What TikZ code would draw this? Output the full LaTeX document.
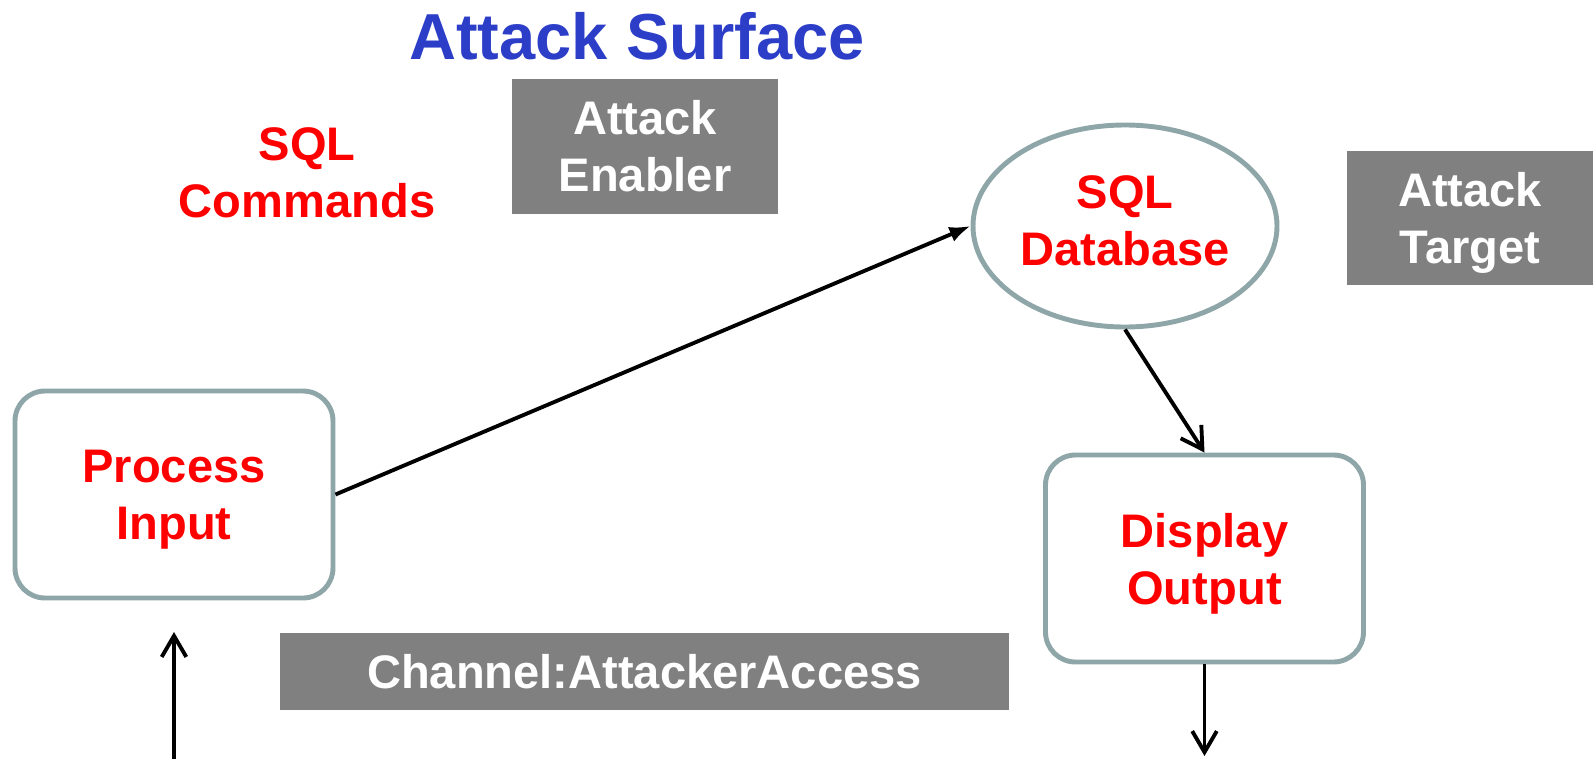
\documentclass[tikz,border=0pt]{standalone}
\usepackage{fontspec}
\setmainfont{Liberation Sans}
\usetikzlibrary{arrows.meta,shapes.geometric}

\definecolor{edgegray}{RGB}{143,166,169}
\definecolor{tagfill}{RGB}{128,128,128}
\definecolor{titleblue}{RGB}{44,62,200}

\begin{document}
\begin{tikzpicture}[
	font=\bfseries\fontsize{13.4}{16.2}\selectfont,
	process/.style={draw=edgegray,line width=1.4pt,rounded corners=3mm,fill=white,
		text=red,align=center,text depth=0pt,minimum width=31.8mm,minimum height=20.7mm},
	tag/.style={fill=tagfill,text=white,align=center,inner sep=0pt},
	flow/.style={line width=1.1pt,-{Straight Barb[length=6pt,width=7pt]}}
	]
	\useasboundingbox (0,0) rectangle (15.93,-7.59);

	\node[text=titleblue,font=\bfseries\fontsize{18.5}{22}\selectfont] (title) at (6.37,-0.36) {Attack Surface};

	\node[tag,minimum width=26.6mm,minimum height=13.5mm] (enabler) at (6.45,-1.465) {Attack\\Enabler};
	\node[text=red,align=center] (sqlcmd) at (3.07,-1.73) {SQL\\Commands};
	\node[tag,minimum width=24.6mm,minimum height=13.4mm,text depth=0pt] (target) at (14.70,-2.18) {Attack\\Target};

	\node[draw=edgegray,line width=1.4pt,ellipse,inner sep=0pt,text=red,align=center,text depth=3pt,
		minimum width=30.4mm,minimum height=20.2mm] (db) at (11.25,-2.26) {SQL\\Database};

	\node[process] (input) at (1.74,-4.945) {Process\\Input};
	\node[process] (output) at (12.045,-5.585) {Display\\Output};

	\node[tag,minimum width=72.9mm,minimum height=7.7mm] (channel) at (6.445,-6.715) {Channel:AttackerAccess};

	% data flow through the application
	\coordinate (in) at (1.74,-7.6);
	\coordinate (inend) at (1.74,-6.32);
	\coordinate (out) at (12.045,-7.56);

	\draw[flow] (in) -- (inend);
	\draw[line width=1.1pt,-{Latex[length=6pt,width=4.5pt]}] (input.east) -- (db.west);
	\draw[flow] (db.south) -- (output.north);
	\draw[flow] (output.south) -- (out);

\end{tikzpicture}
\end{document}
